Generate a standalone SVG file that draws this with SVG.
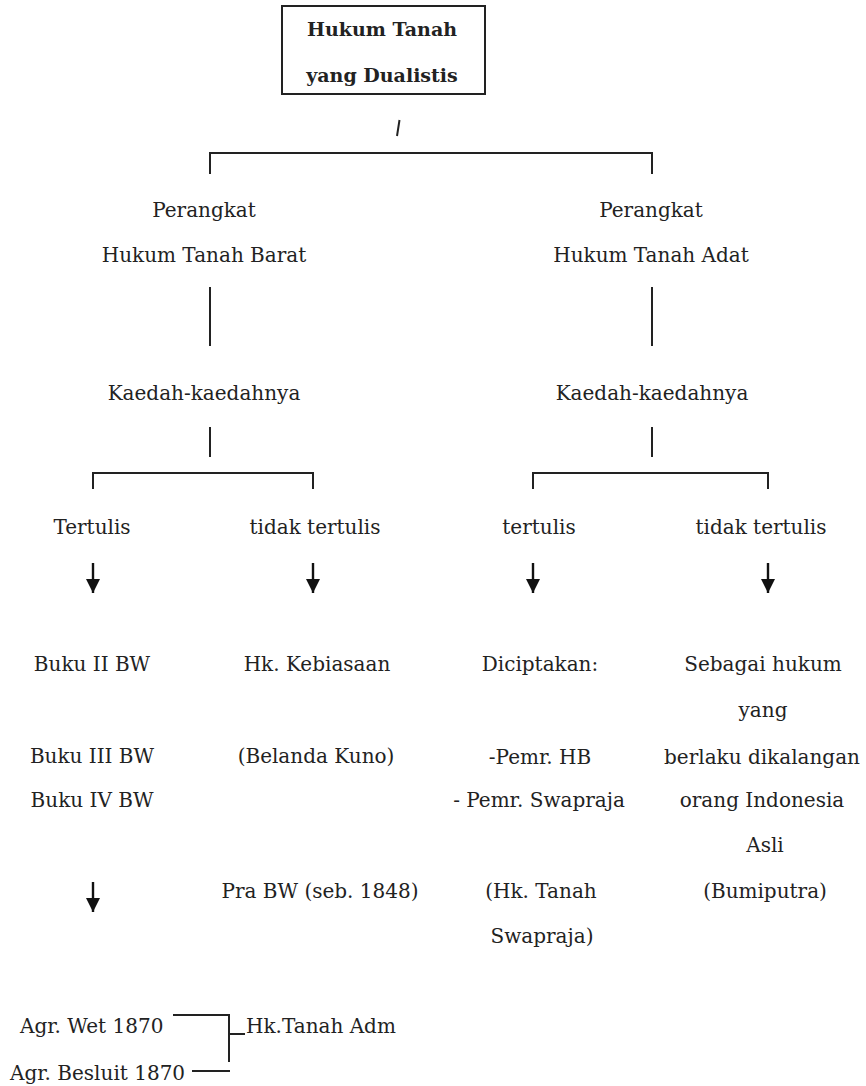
<svg xmlns="http://www.w3.org/2000/svg" width="866" height="1086" viewBox="0 0 866 1086">
<style>
text{font-family:"DejaVu Serif","Liberation Serif",serif;font-size:20px;fill:#222;text-anchor:middle}
.b{font-weight:bold;font-size:19px}
.s{text-anchor:start}
.ln{stroke:#222;stroke-width:2;fill:none}
.ar{stroke:#111;stroke-width:2.4;fill:none}
</style>
<defs>
<marker id="ah" markerUnits="userSpaceOnUse" markerWidth="15" markerHeight="15" viewBox="0 0 15 15" refX="14" refY="7.5" orient="auto">
<path d="M0,0.5 L14,7.5 L0,14.5 Z" fill="#111"/>
</marker>
</defs>
<rect width="866" height="1086" fill="#fff"/>
<g id="connectors">
<path class="ln" d="M399.5,120 L397,136"/>
<path class="ln" d="M210,174 V153 H652 V174"/>
<path class="ln" d="M210,287 V346"/>
<path class="ln" d="M210,427 V457"/>
<path class="ln" d="M93,489 V473 H313 V489"/>
<path class="ln" d="M652,287 V346"/>
<path class="ln" d="M652,427 V457"/>
<path class="ln" d="M533,489 V473 H768 V489"/>
<line class="ar" x1="93" y1="563" x2="93" y2="593" marker-end="url(#ah)"/>
<line class="ar" x1="313" y1="563" x2="313" y2="593" marker-end="url(#ah)"/>
<line class="ar" x1="533" y1="563" x2="533" y2="593" marker-end="url(#ah)"/>
<line class="ar" x1="768" y1="563" x2="768" y2="593" marker-end="url(#ah)"/>
<line class="ar" x1="93" y1="882" x2="93" y2="912" marker-end="url(#ah)"/>
<path class="ln" d="M173,1015 H229 V1062"/>
<path class="ln" d="M229,1034 H245"/>
<path class="ln" d="M192,1071 H230"/>
</g>
<g id="root">
<rect x="282" y="6" width="203" height="88" fill="#fff" stroke="#222" stroke-width="2"/>
<text class="b" x="382" y="36">Hukum Tanah</text>
<text class="b" x="382" y="82">yang Dualistis</text>
</g>
<g id="barat">
<text x="204" y="217">Perangkat</text>
<text x="204" y="262">Hukum Tanah Barat</text>
</g>
<g id="adat">
<text x="651" y="217">Perangkat</text>
<text x="651" y="262">Hukum Tanah Adat</text>
</g>
<g id="kaedah-barat"><text x="204" y="400">Kaedah-kaedahnya</text></g>
<g id="kaedah-adat"><text x="652" y="400">Kaedah-kaedahnya</text></g>
<g id="barat-tertulis"><text x="92" y="534">Tertulis</text></g>
<g id="barat-tidak"><text x="315" y="534">tidak tertulis</text></g>
<g id="adat-tertulis"><text x="539" y="534">tertulis</text></g>
<g id="adat-tidak"><text x="761" y="534">tidak tertulis</text></g>
<g id="buku">
<text x="92" y="671">Buku II BW</text>
<text x="92" y="763">Buku III BW</text>
<text x="92" y="807">Buku IV BW</text>
</g>
<g id="kebiasaan">
<text x="317" y="671">Hk. Kebiasaan</text>
<text x="316" y="763">(Belanda Kuno)</text>
<text x="320" y="898">Pra BW (seb. 1848)</text>
</g>
<g id="diciptakan">
<text x="540" y="671">Diciptakan:</text>
<text x="540" y="764">-Pemr. HB</text>
<text x="539" y="807">- Pemr. Swapraja</text>
<text x="541" y="898">(Hk. Tanah</text>
<text x="542" y="943">Swapraja)</text>
</g>
<g id="sebagai">
<text x="763" y="671">Sebagai hukum</text>
<text x="763" y="717">yang</text>
<text x="762" y="764">berlaku dikalangan</text>
<text x="762" y="807">orang Indonesia</text>
<text x="765" y="852">Asli</text>
<text x="765" y="898">(Bumiputra)</text>
</g>
<g id="agr-wet"><text class="s" x="20" y="1033">Agr. Wet 1870</text></g>
<g id="agr-besluit"><text class="s" x="10" y="1080">Agr. Besluit 1870</text></g>
<g id="hk-adm"><text class="s" x="246" y="1033">Hk.Tanah Adm</text></g>
</svg>
